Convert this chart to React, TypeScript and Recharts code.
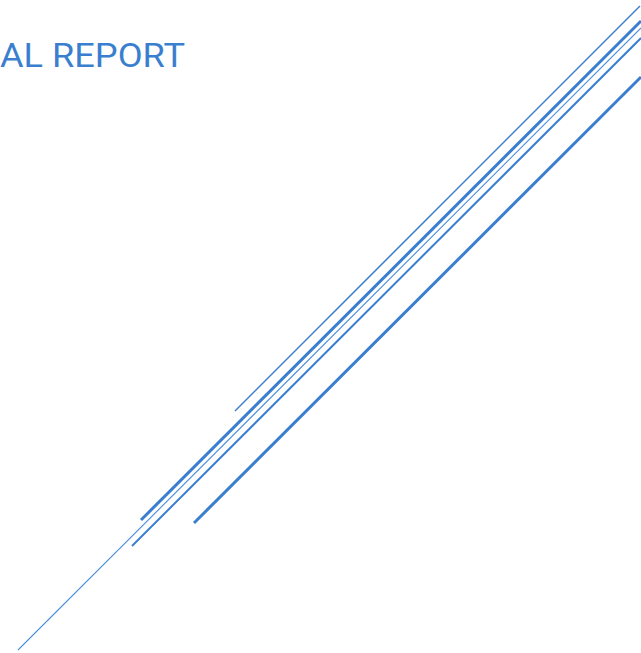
import React from 'react';
import { LineChart, Line, XAxis, YAxis } from 'recharts';

// each stroke is a two-point series in page pixels (y grows downward)
const strokeTop = [{ x: 235, y: 411 }, { x: 640, y: 6 }];
const strokeThick = [{ x: 141, y: 520 }, { x: 641, y: 21 }];
const strokeHair = [{ x: 18, y: 650 }, { x: 641, y: 28 }];
const strokeMid = [{ x: 132, y: 546 }, { x: 641, y: 38 }];
const strokeLow = [{ x: 194, y: 523 }, { x: 641, y: 77 }];

const title = 'AL REPORT';

const BLUE = '#3A7FCF';
const HAIR_BLUE = '#4A8EDD';

const App: React.FC = () => {
  return (
    <div style={{ position: 'absolute', left: 0, top: 0, width: 641, height: 653, background: '#fff' }}>
      <LineChart width={641} height={653} margin={{ top: 0, right: 0, bottom: 0, left: 0 }}>
        <XAxis type="number" dataKey="x" domain={[0, 641]} hide allowDataOverflow />
        <YAxis type="number" dataKey="y" domain={[0, 653]} reversed hide allowDataOverflow />
        <Line data={strokeTop} dataKey="y" stroke={BLUE} strokeWidth={1.5} dot={false} isAnimationActive={false} />
        <Line data={strokeThick} dataKey="y" stroke={BLUE} strokeWidth={3} dot={false} isAnimationActive={false} />
        <Line data={strokeHair} dataKey="y" stroke={HAIR_BLUE} strokeWidth={1.1} dot={false} isAnimationActive={false} />
        <Line data={strokeMid} dataKey="y" stroke={BLUE} strokeWidth={2} dot={false} isAnimationActive={false} />
        <Line data={strokeLow} dataKey="y" stroke={BLUE} strokeWidth={3} dot={false} isAnimationActive={false} />
      </LineChart>
      <svg width={641} height={100} style={{ position: 'absolute', left: 0, top: 0 }}>
        <text
          x={0}
          y={67}
          fontFamily="Roboto, 'Liberation Sans', sans-serif"
          fontWeight={400}
          fontSize={34}
          fill={BLUE}
          textLength={185}
          lengthAdjust="spacingAndGlyphs"
        >
          {title}
        </text>
      </svg>
    </div>
  );
};

export default App;
